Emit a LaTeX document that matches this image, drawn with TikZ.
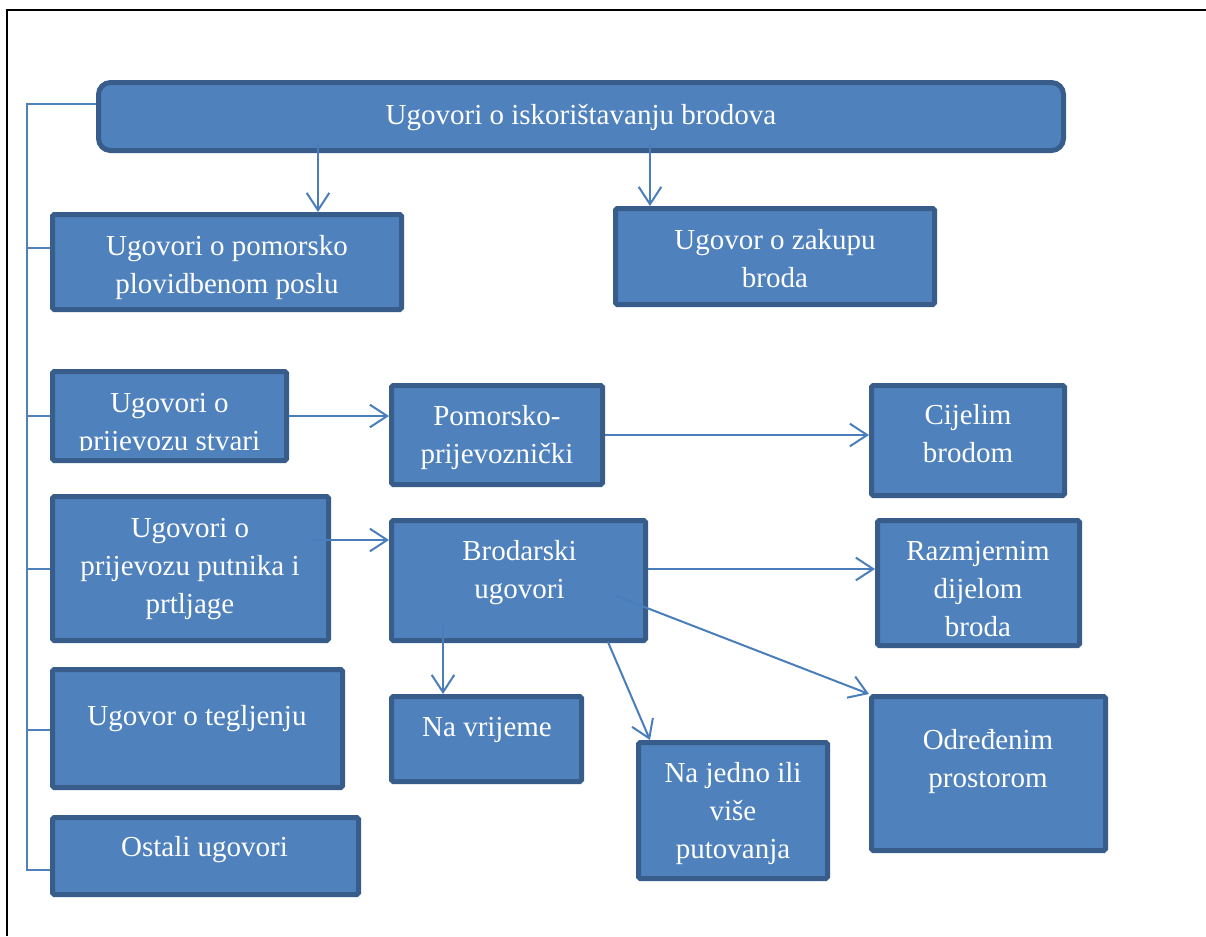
\documentclass[tikz,border=0pt]{standalone}
\usepackage{fontspec}
\setmainfont{Liberation Serif}
\usetikzlibrary{arrows.meta,calc}
\definecolor{boxfill}{HTML}{4F81BD}
\definecolor{boxline}{HTML}{385D8A}
\definecolor{connc}{HTML}{4A7EBB}
\newcommand\bx[5]{\node[box, minimum width={(#4-#2-5)*0.75pt}, minimum height={(#5-#3-5)*0.75pt}] (#1) at ({(#2+#4)/2},{(#3+#5)/2}) {};}
\newcommand\tx[4]{\node[txt] (#1) at (#2,{#3-16.8}) {\strut #4};}
\begin{document}
\begin{tikzpicture}[x=0.75pt,y=-0.75pt,
  box/.style={draw=boxline, fill=boxfill, line width=3.75pt, inner sep=0pt, rectangle, rounded corners=1.2pt},
  txt/.style={text=white, align=center, anchor=north, inner sep=0pt, font=\fontsize{21.75}{28.5}\selectfont},
  conn/.style={draw=connc, line width=1.5pt, -{Straight Barb[length=13pt,width=17pt]}},
  bus/.style={draw=boxfill, line width=1pt},
]
\useasboundingbox (0,0) rectangle (1206,936);
% frame
\draw[black, line width=1.5pt] (7,936) -- (7,10) -- (1206,10);
% boxes
\node[box, rounded corners=9pt, minimum width={965*0.75pt}, minimum height={68*0.75pt}] (top) at (581,116.5) {};
\bx{b2}{50}{212}{404}{312}
\bx{b3}{613}{206}{937}{307}
\bx{b4}{50}{369}{289}{463}
\bx{b5}{50}{494}{331}{643}
\bx{b6}{50}{667}{345}{790}
\bx{b7}{50}{815}{361}{897}
\bx{p}{389}{383}{605}{487}
\bx{br}{389}{518}{648}{643}
\bx{c}{869}{383}{1067}{498}
\bx{r}{875}{518}{1082}{648}
\bx{v}{389}{694}{584}{784}
\bx{j}{636}{740}{830}{881}
\bx{o}{869}{694}{1108}{853}
% texts
\tx{ttop}{581}{114}{Ugovori o iskorištavanju brodova}
\tx{t2}{227}{245}{Ugovori o pomorsko\\plovidbenom poslu}
\tx{t3}{775}{239}{Ugovor o zakupu\\broda}
\begin{scope}
\clip (b4.north west) rectangle ($(b4.south east)+(0,-13)$);
\tx{t4}{169.5}{402}{Ugovori o\\prijevozu stvari}
\end{scope}
\tx{t5}{190}{527}{Ugovori o\\prijevozu putnika i\\prtljage}
\tx{t6}{197}{715}{Ugovor o tegljenju}
\tx{t7}{204.5}{846}{Ostali ugovori}
\tx{tp}{497}{415}{Pomorsko-\\prijevoznički}
\tx{tbr}{519.5}{550}{Brodarski\\ugovori}
\tx{tc}{968}{414}{Cijelim\\brodom}
\tx{tr}{978}{550}{Razmjernim\\dijelom\\broda}
\tx{tv}{487}{726}{Na vrijeme}
\tx{tj}{733}{772}{Na jedno ili\\više\\putovanja}
\tx{to}{988}{739}{Određenim\\prostorom}
% left bus
\draw[bus] ($(top.west)+(0,-12.5)$) -| ($(b7.west)+(-23,14)$) -- ($(b7.west)+(0,14)$);
\draw[bus] ($(b2.west)+(-23,-14)$) -- ($(b2.west)+(0,-14)$);
\draw[bus] ($(b4.west)+(-23,0)$) -- (b4.west);
\draw[bus] ($(b5.west)+(-23,0.5)$) -- ($(b5.west)+(0,0.5)$);
\draw[bus] ($(b6.west)+(-23,1.5)$) -- ($(b6.west)+(0,1.5)$);
% arrows
\draw[conn] ($(b2.north)+(91,-69)$) -- ($(b2.north)+(91,0)$);
\draw[conn] ($(b3.north)+(-125,-63)$) -- ($(b3.north)+(-125,0)$);
\draw[conn] (b4.east) -- (b4.east -| p.west);
\draw[conn] ($(b5.east)+(-18,-28.5)$) -- ($(br.west)+(0,-40.5)$);
\draw[conn] (p.east) -- (p.east -| c.west);
\draw[conn] ($(br.east)+(0,-11.5)$) -- ($(r.west)+(0,-14)$);
\draw[conn] ($(br.center)+(97.5,15.5)$) -- (o.north west);
\draw[conn] ($(v.north)+(-43.5,-71)$) -- ($(v.north)+(-43.5,0)$);
\draw[conn] ($(br.south)+(89.5,-1)$) -- ($(j.north)+(-83,0)$);
\end{tikzpicture}
\end{document}
